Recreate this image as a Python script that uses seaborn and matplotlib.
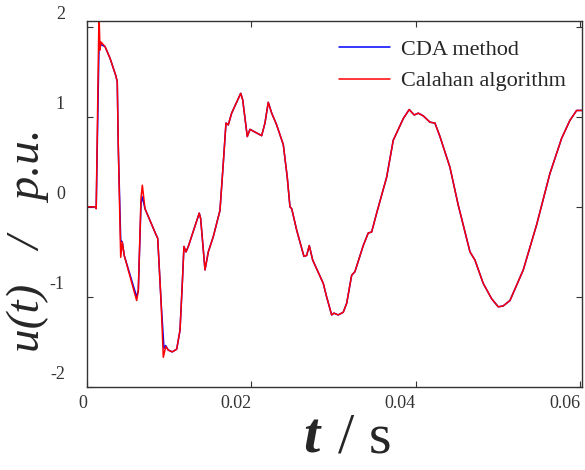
import numpy as np
import pandas as pd
import matplotlib
matplotlib.use("Agg")
import matplotlib.pyplot as plt
import matplotlib.transforms as mtransforms
import seaborn as sns

# ---- data ----
t_cda = [0.0, 0.00106, 0.00112, 0.00146, 0.00170, 0.00219, 0.00280, 0.00320, 0.00349,
         0.00368, 0.00381, 0.00410, 0.00429, 0.00453, 0.00604, 0.00624, 0.00657, 0.00673,
         0.00705, 0.00835, 0.00860, 0.00900, 0.00936, 0.00957, 0.00988, 0.01037, 0.01091,
         0.01131, 0.01159, 0.01179, 0.01204, 0.01232, 0.01365, 0.01382, 0.01435, 0.01475,
         0.01536, 0.01617, 0.01657, 0.01690, 0.01718, 0.01759, 0.01869, 0.01893, 0.01949,
         0.01982, 0.02043, 0.02124, 0.02164, 0.02204, 0.02246, 0.02306, 0.02387, 0.02435,
         0.02468, 0.02489, 0.02550, 0.02638, 0.02671, 0.02703, 0.02744, 0.02873, 0.02914,
         0.02975, 0.03003, 0.03055, 0.03116, 0.03158, 0.03218, 0.03258, 0.03359, 0.03420,
         0.03461, 0.03522, 0.03644, 0.03724, 0.03765, 0.03846, 0.03918, 0.03979, 0.04028,
         0.04089, 0.04170, 0.04231, 0.04292, 0.04413, 0.04514, 0.04657, 0.04717, 0.04818,
         0.04920, 0.05001, 0.05061, 0.05143, 0.05305, 0.05467, 0.05629, 0.05771, 0.05872,
         0.05954, 0.06030]
u_cda = [0.0, 0.0, -0.02, 1.78, 1.80, 1.78, 1.65, 1.54, 1.46,
         1.39, 0.65, -0.37, -0.39, -0.54, -1.00, -0.93, 0.04, 0.11,
         -0.02, -0.30, -0.35, -1.04, -1.57, -1.54, -1.59, -1.61, -1.58,
         -1.37, -0.85, -0.44, -0.50, -0.44, -0.07, -0.13, -0.70, -0.50,
         -0.33, -0.04, 0.48, 0.93, 0.91, 1.04, 1.26, 1.19, 0.78,
         0.86, 0.83, 0.79, 0.93, 1.16, 1.04, 0.91, 0.69, 0.33,
         0.00, -0.02, -0.26, -0.55, -0.54, -0.43, -0.59, -0.85, -1.00,
         -1.20, -1.18, -1.20, -1.17, -1.07, -0.76, -0.72, -0.43, -0.29,
         -0.28, -0.07, 0.33, 0.74, 0.82, 0.98, 1.08, 1.02, 1.04,
         1.01, 0.94, 0.93, 0.78, 0.44, 0.02, -0.50, -0.59, -0.85,
         -1.02, -1.11, -1.10, -1.04, -0.70, -0.20, 0.37, 0.76, 0.96,
         1.07, 1.07]

t_cal = [0.0, 0.00106, 0.00112, 0.00146, 0.00158, 0.00170, 0.00219, 0.00280, 0.00320,
         0.00349, 0.00368, 0.00381, 0.00410, 0.00429, 0.00453, 0.00604, 0.00624, 0.00657,
         0.00673, 0.00705, 0.00835, 0.00860, 0.00900, 0.00928, 0.00957, 0.00988, 0.01037,
         0.01091, 0.01131, 0.01159, 0.01179, 0.01204, 0.01232, 0.01365, 0.01382, 0.01435,
         0.01475, 0.01536, 0.01617, 0.01657, 0.01690, 0.01718, 0.01759, 0.01869, 0.01893,
         0.01949, 0.01982, 0.02043, 0.02124, 0.02164, 0.02204, 0.02246, 0.02306, 0.02387,
         0.02435, 0.02468, 0.02489, 0.02550, 0.02638, 0.02671, 0.02703, 0.02744, 0.02873,
         0.02914, 0.02975, 0.03003, 0.03055, 0.03116, 0.03158, 0.03218, 0.03258, 0.03359,
         0.03420, 0.03461, 0.03522, 0.03644, 0.03724, 0.03765, 0.03846, 0.03918, 0.03979,
         0.04028, 0.04089, 0.04170, 0.04231, 0.04292, 0.04413, 0.04514, 0.04657, 0.04717,
         0.04818, 0.04920, 0.05001, 0.05061, 0.05143, 0.05305, 0.05467, 0.05629, 0.05771,
         0.05872, 0.05954, 0.06030]
u_cal = [0.0, 0.0, -0.02, 2.15, 1.74, 1.83, 1.78, 1.65, 1.54,
         1.46, 1.39, 0.65, -0.56, -0.39, -0.54, -1.04, -0.93, 0.10,
         0.24, -0.02, -0.30, -0.35, -1.04, -1.67, -1.55, -1.59, -1.61,
         -1.58, -1.37, -0.85, -0.44, -0.50, -0.44, -0.07, -0.13, -0.70,
         -0.50, -0.33, -0.04, 0.48, 0.93, 0.91, 1.04, 1.26, 1.19,
         0.78, 0.86, 0.83, 0.79, 0.93, 1.16, 1.04, 0.91, 0.69,
         0.33, 0.00, -0.02, -0.26, -0.55, -0.54, -0.43, -0.59, -0.85,
         -1.00, -1.20, -1.18, -1.20, -1.17, -1.07, -0.76, -0.72, -0.43,
         -0.29, -0.28, -0.07, 0.33, 0.74, 0.82, 0.98, 1.08, 1.02,
         1.04, 1.01, 0.94, 0.93, 0.78, 0.44, 0.02, -0.50, -0.59,
         -0.85, -1.02, -1.11, -1.10, -1.04, -0.70, -0.20, 0.37, 0.76,
         0.96, 1.07, 1.07]

series_names = ["CDA method", "Calahan algorithm"]
series_colors = ["#0000ff", "#ff0000"]
x_ticks = [0, 0.02, 0.04, 0.06]
x_ticklabels = ["0", "0.02", "0.04", "0.06"]
y_ticks = [-2, -1, 0, 1, 2]
y_ticklabels = ["-2", "-1", "0", "1", "2"]

df = pd.concat([
    pd.DataFrame({"t": t_cda, "u": u_cda, "method": series_names[0]}),
    pd.DataFrame({"t": t_cal, "u": u_cal, "method": series_names[1]}),
], ignore_index=True)

sns.set_theme(style="ticks")
plt.rcParams["font.family"] = ["Liberation Serif", "DejaVu Serif"]

fig = plt.figure(figsize=(5.85, 4.70), dpi=100)
ax = fig.add_axes([0.1487, 0.1766, 0.8463, 0.7787])

sns.lineplot(data=df, x="t", y="u", hue="method", hue_order=series_names,
             palette=dict(zip(series_names, series_colors)), linewidth=1.1,
             sort=False, estimator=None, ax=ax)

ax.set_xlim(0, 0.0602)
ax.set_ylim(-2.0, 2.063)
ax.set_xticks(x_ticks)
ax.set_xticklabels(x_ticklabels, fontsize=13, ha="right")
ax.set_yticks(y_ticks)
ax.set_yticklabels(y_ticklabels, fontsize=13, va="bottom")
ax.tick_params(direction="in", length=4, width=0.8, top=True, right=True,
               colors="#333333", labelcolor="#333333")
ax.tick_params(axis="x", pad=6)
ax.tick_params(axis="y", pad=16)
for lab in ax.get_yticklabels():
    lab.set_transform(lab.get_transform() + mtransforms.ScaledTranslation(0, 3/72, fig.dpi_scale_trans))
for sp in ax.spines.values():
    sp.set_color("#333333")
    sp.set_linewidth(1.0)

ax.set_xlabel("")
# x label: bold italic t, regular "/ s"
fig.text(0.519, 0.012, "t", fontsize=42, style="italic", weight="bold", ha="left", va="bottom")
fig.text(0.578, 0.012, "/ s", fontsize=42, ha="left", va="bottom")

ax.set_ylabel("")
fig.text(0.047, 0.49, "u(t)   /   p.u.", fontsize=34, style="italic",
         rotation=90, ha="center", va="center")

leg = ax.legend(frameon=False, fontsize=16, loc="upper right",
                bbox_to_anchor=(1.008, 1.005), handlelength=2.3, handletextpad=0.5,
                labelspacing=0.5)
for line in leg.get_lines():
    line.set_linewidth(1.1)

fig.savefig("out.png", dpi=100)
